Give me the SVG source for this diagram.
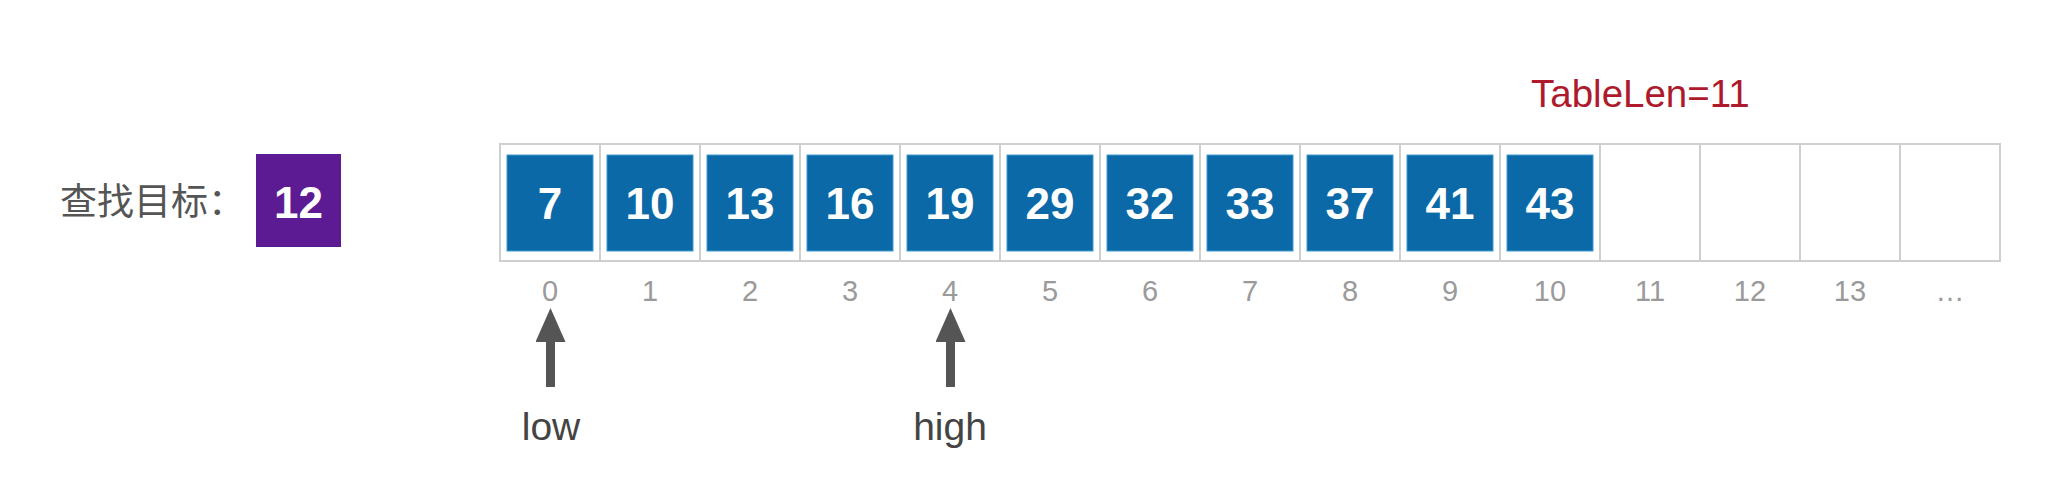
<svg xmlns="http://www.w3.org/2000/svg" width="2070" height="484" viewBox="0 0 2070 484">
  <style>
    .cell { fill: #ffffff; stroke: #cfcfcf; stroke-width: 2; }
    .val { fill: #0c69a8; stroke: #3f9ad4; stroke-width: 1; }
    .num { font-family: "Liberation Sans", Arial, sans-serif; font-weight: bold; font-size: 44px; fill: #ffffff; text-anchor: middle; }
    .idx { font-family: "Liberation Sans", Arial, sans-serif; font-size: 29px; fill: #9a9a9a; text-anchor: middle; }
    .ptr { font-family: "Liberation Sans", Arial, sans-serif; font-size: 39px; fill: #444444; text-anchor: middle; }
    .arrow { stroke: #555555; stroke-width: 9; fill: none; }
  </style>
  <defs>
    <marker id="head" markerUnits="userSpaceOnUse" markerWidth="34" markerHeight="30" refX="0" refY="15" orient="auto">
      <path d="M0,0 L34,15 L0,30 z" fill="#555555"/>
    </marker>
  </defs>
  <rect width="2070" height="484" fill="#ffffff"/>

  <g id="target">
    <text x="60" y="215" font-family="'Noto Sans CJK SC', sans-serif" font-size="37" fill="#555555">查找目标：</text>
    <rect x="256" y="154" width="85" height="93" fill="#5c1b93"/>
    <text class="num" x="298.5" y="218" font-size="46">12</text>
  </g>

  <g id="tablelen">
    <text x="1531" y="107" font-family="'Liberation Sans', Arial, sans-serif" font-size="38.5" fill="#ae1a2c">TableLen=11</text>
  </g>

  <g id="table">
    <rect class="cell" x="500" y="144" width="100" height="117"/>
    <rect class="cell" x="600" y="144" width="100" height="117"/>
    <rect class="cell" x="700" y="144" width="100" height="117"/>
    <rect class="cell" x="800" y="144" width="100" height="117"/>
    <rect class="cell" x="900" y="144" width="100" height="117"/>
    <rect class="cell" x="1000" y="144" width="100" height="117"/>
    <rect class="cell" x="1100" y="144" width="100" height="117"/>
    <rect class="cell" x="1200" y="144" width="100" height="117"/>
    <rect class="cell" x="1300" y="144" width="100" height="117"/>
    <rect class="cell" x="1400" y="144" width="100" height="117"/>
    <rect class="cell" x="1500" y="144" width="100" height="117"/>
    <rect class="cell" x="1600" y="144" width="100" height="117"/>
    <rect class="cell" x="1700" y="144" width="100" height="117"/>
    <rect class="cell" x="1800" y="144" width="100" height="117"/>
    <rect class="cell" x="1900" y="144" width="100" height="117"/>
  </g>

  <g id="v0"><rect class="val" x="507" y="155" width="86" height="96"/><text class="num" x="550" y="219">7</text></g>
  <g id="v1"><rect class="val" x="607" y="155" width="86" height="96"/><text class="num" x="650" y="219">10</text></g>
  <g id="v2"><rect class="val" x="707" y="155" width="86" height="96"/><text class="num" x="750" y="219">13</text></g>
  <g id="v3"><rect class="val" x="807" y="155" width="86" height="96"/><text class="num" x="850" y="219">16</text></g>
  <g id="v4"><rect class="val" x="907" y="155" width="86" height="96"/><text class="num" x="950" y="219">19</text></g>
  <g id="v5"><rect class="val" x="1007" y="155" width="86" height="96"/><text class="num" x="1050" y="219">29</text></g>
  <g id="v6"><rect class="val" x="1107" y="155" width="86" height="96"/><text class="num" x="1150" y="219">32</text></g>
  <g id="v7"><rect class="val" x="1207" y="155" width="86" height="96"/><text class="num" x="1250" y="219">33</text></g>
  <g id="v8"><rect class="val" x="1307" y="155" width="86" height="96"/><text class="num" x="1350" y="219">37</text></g>
  <g id="v9"><rect class="val" x="1407" y="155" width="86" height="96"/><text class="num" x="1450" y="219">41</text></g>
  <g id="v10"><rect class="val" x="1507" y="155" width="86" height="96"/><text class="num" x="1550" y="219">43</text></g>

  <g id="indices">
    <text class="idx" x="550" y="301">0</text>
    <text class="idx" x="650" y="301">1</text>
    <text class="idx" x="750" y="301">2</text>
    <text class="idx" x="850" y="301">3</text>
    <text class="idx" x="950" y="301">4</text>
    <text class="idx" x="1050" y="301">5</text>
    <text class="idx" x="1150" y="301">6</text>
    <text class="idx" x="1250" y="301">7</text>
    <text class="idx" x="1350" y="301">8</text>
    <text class="idx" x="1450" y="301">9</text>
    <text class="idx" x="1550" y="301">10</text>
    <text class="idx" x="1650" y="301">11</text>
    <text class="idx" x="1750" y="301">12</text>
    <text class="idx" x="1850" y="301">13</text>
    <text class="idx" x="1950" y="301">…</text>
  </g>

  <g id="low"><text class="ptr" x="551" y="440">low</text></g>
  <g id="high"><text class="ptr" x="950" y="440">high</text></g>

  <g id="connectors">
    <line class="arrow" x1="550.5" y1="387" x2="550.5" y2="342" marker-end="url(#head)"/>
    <line class="arrow" x1="950.5" y1="387" x2="950.5" y2="342" marker-end="url(#head)"/>
  </g>
</svg>
